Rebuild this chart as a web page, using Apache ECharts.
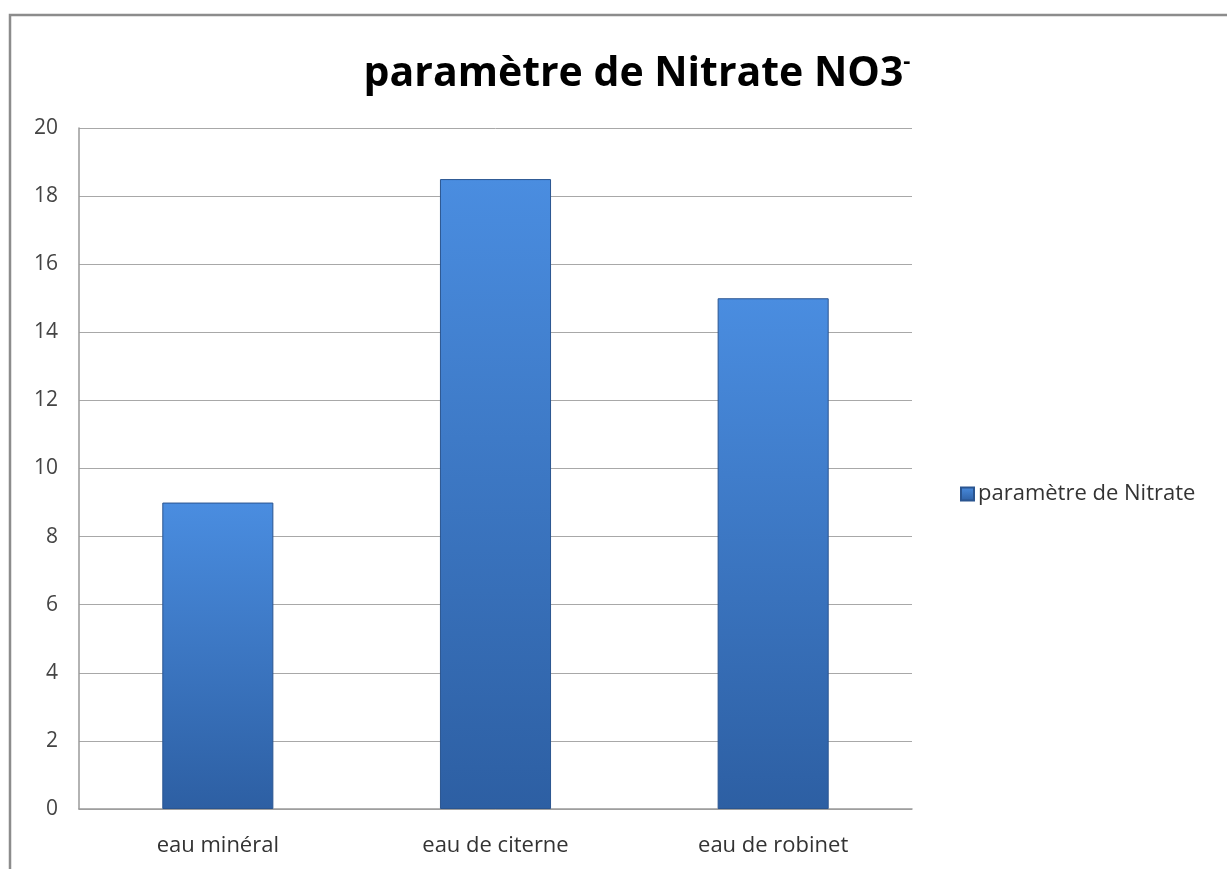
<!DOCTYPE html>
<html>
<head>
<meta charset="utf-8">
<script src="https://cdn.jsdelivr.net/npm/echarts@6/dist/echarts.min.js"></script>
<style>
  html, body { margin: 0; padding: 0; background: #fff; }
  #chart { width: 1227px; height: 869px; }
</style>
</head>
<body>
<div id="chart"></div>
<script>
// données
var categories = ['eau minéral', 'eau de citerne', 'eau de robinet'];
var nitrateValues = [9, 18.5, 15];
var seriesName = 'paramètre de Nitrate';

var chart = echarts.init(document.getElementById('chart'));

var barColor = new echarts.graphic.LinearGradient(0, 0, 0, 1, [
    { offset: 0, color: '#4a8de0' },
    { offset: 1, color: '#2d5fa3' }
]);

var option = {
    backgroundColor: '#fff',
    animation: false,
    title: {
        text: 'paramètre de Nitrate NO3{sup|-}',
        left: 632,
        textAlign: 'center',
        top: 46,
        textStyle: {
            fontFamily: 'Open Sans',
            fontSize: 41,
            fontWeight: 'bold',
            color: '#000',
            rich: {
                sup: { fontSize: 22, fontWeight: 'bold', color: '#000', verticalAlign: 'top', padding: [0, 0, 24, 0] }
            }
        }
    },
    graphic: [{
        type: 'rect',
        shape: { x: 10, y: 15, width: 1240, height: 900 },
        style: { fill: 'none', stroke: '#8c8c8c', lineWidth: 2.5 },
        silent: true
    }],
    legend: {
        left: 955,
        top: 478,
        itemWidth: 13,
        itemHeight: 13,
        itemGap: 4,
        icon: 'rect',
        textStyle: { fontFamily: 'Open Sans', fontSize: 22, color: '#333', padding: [0, 0, 0, -1] },
        data: [seriesName]
    },
    grid: { left: 79, right: 315, top: 128, bottom: 60 },
    xAxis: {
        type: 'category',
        data: categories,
        axisLine: { lineStyle: { color: '#9a9a9a', width: 1.5 } },
        axisTick: { show: false },
        axisLabel: { fontFamily: 'Open Sans', fontSize: 22, color: '#333', margin: 26 }
    },
    yAxis: {
        type: 'value',
        min: 0,
        max: 20,
        interval: 2,
        axisLine: { show: true, lineStyle: { color: '#9a9a9a', width: 1.5 } },
        axisTick: { show: false },
        splitLine: { lineStyle: { color: '#a8a8a8', width: 1 } },
        axisLabel: { fontFamily: 'Open Sans', fontSize: 21, color: '#444', margin: 21 }
    },
    series: [{
        name: seriesName,
        type: 'bar',
        data: nitrateValues,
        barWidth: '40%',
        itemStyle: {
            color: barColor,
            borderColor: '#2a5590',
            borderWidth: 1
        }
    }]
};

chart.setOption(option);
</script>
</body>
</html>
